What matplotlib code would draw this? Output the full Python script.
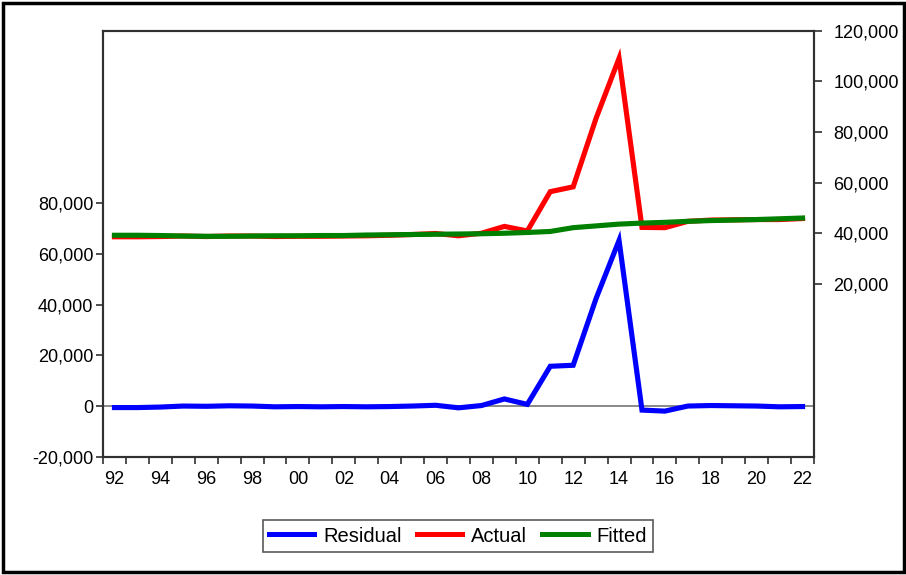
import numpy as np
import matplotlib
matplotlib.use("Agg")
import matplotlib.pyplot as plt
from matplotlib.patches import Rectangle
from matplotlib.ticker import FuncFormatter

plt.rcParams['font.family'] = ['Liberation Sans', 'DejaVu Sans']

years = list(range(1992, 2023))
residual = [-600, -600, -400, 0, -100, 100, 0, -300, -200, -300,
            -200, -300, -200, 0, 300, -700, 200, 2800, 650, 15700,
            16100, 42500, 65400, -1600, -2000, 0, 200, 100, 0, -300,
            -200]
actual = [38700, 38700, 38800, 39000, 38800, 39000, 39000, 38800, 38900, 38900,
          39000, 39100, 39300, 39600, 40000, 39100, 40100, 42800, 41000, 56500,
          58400, 85500, 109100, 42400, 42300, 44800, 45300, 45400, 45500, 45500,
          45900]
fitted = [39300, 39300, 39200, 39000, 38900, 38900, 39000, 39100, 39100, 39200,
          39200, 39400, 39500, 39600, 39700, 39800, 39900, 40100, 40400, 40800,
          42300, 43000, 43700, 44100, 44400, 44800, 45100, 45300, 45500, 45800,
          46100]
left_ticks = [-20000, 0, 20000, 40000, 60000, 80000]
right_ticks = [20000, 40000, 60000, 80000, 100000, 120000]
xlabel_years = list(range(1992, 2023, 2))

W, H = 906, 575
fig = plt.figure(figsize=(W / 100, H / 100), dpi=100)
fig.patch.set_facecolor('white')

l, r, t, b = 103, 814, 30.7, 456.7
ax = fig.add_axes([l / W, 1 - b / H, (r - l) / W, (b - t) / H])
ax2 = ax.twinx()

FS = 13
lw = 3.7
edge = '#303030'

ax.axhline(0, color='#808080', lw=1.3, zorder=1)
h1, = ax.plot(years, residual, color='#0000FF', lw=lw, label='Residual',
              solid_joinstyle='miter', zorder=3)
h2, = ax2.plot(years, actual, color='#FF0000', lw=lw, label='Actual',
               solid_joinstyle='miter', zorder=2)
h3, = ax2.plot(years, fitted, color='#008000', lw=lw, label='Fitted',
               solid_joinstyle='miter', zorder=3)

ax.set_xlim(1991.5, 2022.5)
ax.set_ylim(-20000, 148200)
ax2.set_ylim(-48050, 120000)

fmt = FuncFormatter(lambda v, p: f"{int(v):,}")
ax.set_yticks(left_ticks)
ax.yaxis.set_major_formatter(fmt)
ax2.set_yticks(right_ticks)
ax2.yaxis.set_major_formatter(fmt)

ax.set_xticks(np.arange(1991.5, 2023.0, 1.0))
ax.set_xticklabels([])
ax.set_xticks(xlabel_years, minor=True)
ax.set_xticklabels([f"{y % 100:02d}" for y in xlabel_years], minor=True)
ax.tick_params(axis='x', which='major', length=5, width=1.2, color=edge, direction='out')
ax.tick_params(axis='x', which='minor', length=0, pad=10, labelsize=FS)
ax.tick_params(axis='y', which='both', length=5, width=1.2, color=edge, pad=2, labelsize=FS)
ax2.tick_params(axis='y', length=6, width=1.2, color=edge, pad=8, labelsize=FS)
ax.yaxis.set_minor_locator(matplotlib.ticker.NullLocator())
ax2.yaxis.set_minor_locator(matplotlib.ticker.NullLocator())

for a in (ax, ax2):
    for s in a.spines.values():
        s.set_color(edge)
        s.set_linewidth(1.5)

LFS = 14.5
leg = fig.legend(handles=[h1, h2, h3], loc='center',
                 bbox_to_anchor=(458 / W, 1 - 536 / H), ncol=3, frameon=True,
                 fancybox=False, fontsize=LFS, handlelength=2.25, handletextpad=0.45,
                 columnspacing=0.75, borderpad=0.3, edgecolor=edge)
leg.get_frame().set_linewidth(1.2)
for lh in leg.get_lines():
    lh.set_linewidth(3.6)

fig.patches.append(Rectangle((2.5 / W, 3 / H), (W - 5) / W, (H - 6) / H,
                             transform=fig.transFigure, fill=False,
                             edgecolor='black', lw=2.5))

fig.savefig('out.png', dpi=100)
